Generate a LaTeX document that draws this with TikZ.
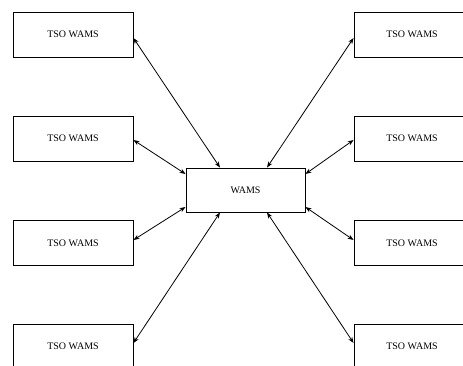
\documentclass[tikz,border=0pt]{standalone}
\usepackage{fontspec}
\setmainfont{Liberation Serif}
\usetikzlibrary{arrows.meta,calc}
\begin{document}
\begin{tikzpicture}[x=1pt,y=-1pt,
  box/.style={draw, line width=0.9pt, minimum width=120pt, minimum height=45pt, inner sep=0pt, font=\fontsize{10}{12}\selectfont},
  link/.style={line width=0.8pt, {Stealth[length=6pt,width=4.5pt]}-{Stealth[length=6pt,width=4.5pt]}}]
\useasboundingbox (0,0) rectangle (463,365);
\clip (0,0) rectangle (463,365);
\node[box] (l1) at (73,34.5) {TSO WAMS};
\node[box] (l2) at (73,138.5) {TSO WAMS};
\node[box] (l3) at (73,243) {TSO WAMS};
\node[box] (l4) at (73,346.5) {TSO WAMS};
\node[box, minimum width=116pt] (r1) at (412,34.5) {TSO WAMS};
\node[box, minimum width=116pt] (r2) at (412,138.5) {TSO WAMS};
\node[box, minimum width=116pt] (r3) at (412,243) {TSO WAMS};
\node[box, minimum width=116pt] (r4) at (412,346.5) {TSO WAMS};
\node[box, minimum width=119pt, minimum height=44pt] (w) at (245.5,190) {WAMS};
\draw[link] ($(l1.east)+(0,3.5)$) -- ($(w.north)+(-25.5,0)$);
\draw[link] ($(l2.east)+(0,1.5)$) -- ($(w.west)+(0,-16)$);
\draw[link] ($(l3.east)+(0,-3)$) -- ($(w.west)+(0,17)$);
\draw[link] ($(l4.east)+(0,-3.5)$) -- ($(w.south)+(-25.5,0)$);
\draw[link] ($(r1.west)+(0,3.5)$) -- ($(w.north)+(21.5,0)$);
\draw[link] ($(r2.west)+(0,1.5)$) -- ($(w.east)+(0,-16)$);
\draw[link] ($(r3.west)+(0,-3)$) -- ($(w.east)+(0,17)$);
\draw[link] ($(r4.west)+(0,-3.5)$) -- ($(w.south)+(21.5,0)$);
\end{tikzpicture}
\end{document}
